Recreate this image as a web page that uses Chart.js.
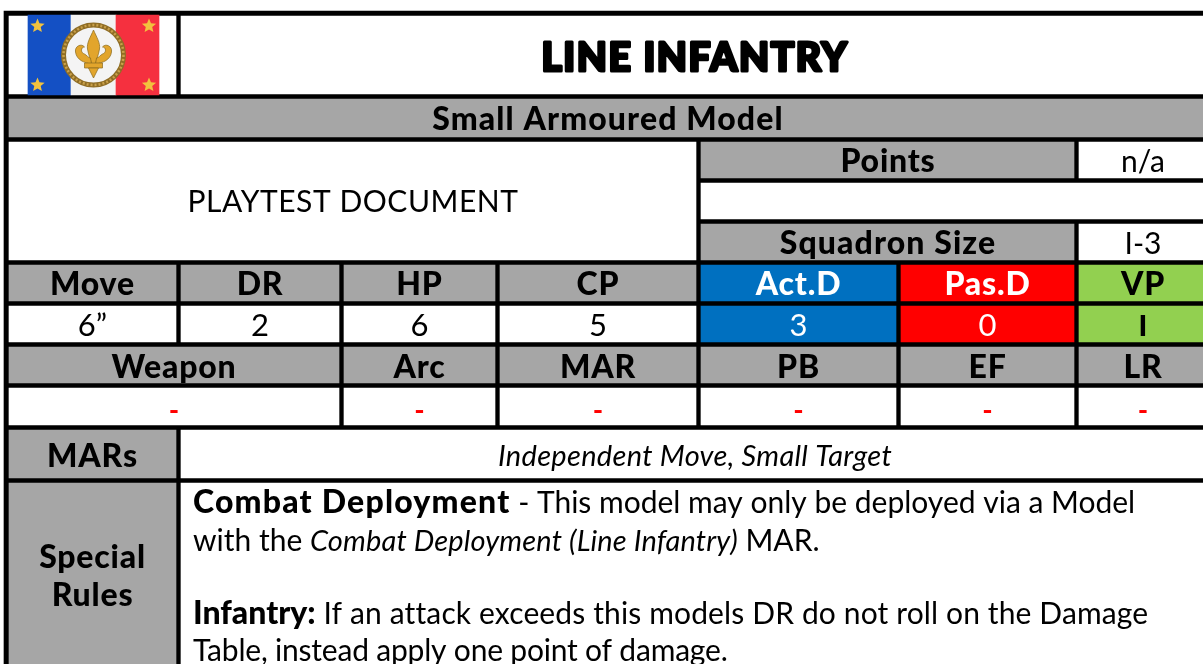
<!DOCTYPE html>
<html>
<head>
<meta charset="utf-8">
<title>Line Infantry</title>
<script src="https://cdn.jsdelivr.net/npm/chart.js@4"></script>
<style>
  html, body { margin: 0; padding: 0; background: #fff; overflow: hidden; }
  canvas { display: block; }
</style>
</head>
<body>
<canvas id="card" width="1203" height="664"></canvas>
<script>
// Card contents
const titleText = 'LINE INFANTRY';
const modelType = 'Small Armoured Model';
const noteText = 'PLAYTEST DOCUMENT';
const pointsLabel = 'Points';
const pointsValue = 'n/a';
const squadronLabel = 'Squadron Size';
const squadronValue = 'I-3';
const statHeaders = ['Move', 'DR', 'HP', 'CP', 'Act.D', 'Pas.D', 'VP'];
const statValues = ['6”', '2', '6', '5', '3', '0', 'I'];
const weaponHeaders = ['Weapon', 'Arc', 'MAR', 'PB', 'EF', 'LR'];
const weaponValues = ['-', '-', '-', '-', '-', '-'];
const marsLabel = 'MARs';
const marsText = 'Independent Move, Small Target';
const rulesLabel = ['Special', 'Rules'];
const rulesLines = [
  [['b', 'Combat Deployment'], ['n', ' - This model may only be deployed via a Model']],
  [['n', 'with the '], ['i', 'Combat Deployment (Line Infantry)'], ['n', ' MAR.']],
  [['b', 'Infantry:'], ['n', ' If an attack exceeds this models DR do not roll on the Damage']],
  [['n', 'Table, instead apply one point of damage.']]
];

// Grid of the card, in axis units (last column runs off the page)
const GREY = '#a6a6a6', WHITE = '#ffffff', BLUE = '#0070c0', RED = '#ff0000', GREEN = '#92d050';
const rows = {
  title: [16, 94], type: [99, 137], note: [142, 260], points: [142, 178], blank: [183, 219], squad: [224, 260],
  stat: [265, 301], val: [306, 342], weap: [347, 383], wval: [388, 425], mars: [430, 478], rules: [483, 664]
};
const cols = [[9, 176], [181, 339], [344, 495], [500, 696], [701, 896], [901, 1074], [1079, 1207]];
const weapCols = [[9, 339], cols[2], cols[3], cols[4], cols[5], cols[6]];
const statFill = [GREY, GREY, GREY, GREY, BLUE, RED, GREEN];
const valFill = [WHITE, WHITE, WHITE, WHITE, BLUE, RED, GREEN];

function rowDataset(rowKey, cells) {
  const r = rows[rowKey];
  return {
    barThickness: r[1] - r[0],
    data: cells.map(c => ({ x: [c[0], c[1]], y: (r[0] + r[1]) / 2 })),
    backgroundColor: cells.map(c => c[2])
  };
}
const withFill = (list, fills) => list.map((c, i) => [c[0], c[1], Array.isArray(fills) ? fills[i] : fills]);

const datasets = [
  // flag stripes go over the title cell
  { barThickness: 80, data: [{ x: [28, 71], y: 55 }, { x: [71, 116], y: 55 }, { x: [116, 159], y: 55 }],
    backgroundColor: ['#1450c4', '#f2f2f2', '#f5303f'] },
  rowDataset('title', [[9, 176, WHITE], [181, 1207, WHITE]]),
  rowDataset('type', [[9, 1207, GREY]]),
  rowDataset('note', [[9, 696, WHITE]]),
  rowDataset('points', [[701, 1074, GREY], [1079, 1207, WHITE]]),
  rowDataset('blank', [[701, 1207, WHITE]]),
  rowDataset('squad', [[701, 1074, GREY], [1079, 1207, WHITE]]),
  rowDataset('stat', withFill(cols, statFill)),
  rowDataset('val', withFill(cols, valFill)),
  rowDataset('weap', withFill(weapCols, GREY)),
  rowDataset('wval', withFill(weapCols, WHITE)),
  rowDataset('mars', [[9, 176, GREY], [181, 1207, WHITE]]),
  rowDataset('rules', [[9, 176, GREY], [181, 1207, WHITE]]),
  // black backing shows through as the border lines
  { barThickness: 653, data: [{ x: [4, 1207], y: 337.5 }], backgroundColor: ['#000000'] }
];

const FONT = 'Lato, "Liberation Sans", sans-serif';

function star(ctx, x, y, r) {
  ctx.beginPath();
  for (let i = 0; i < 10; i++) {
    const a = -Math.PI / 2 + i * Math.PI / 5, d = i % 2 ? r * 0.45 : r;
    ctx.lineTo(x + d * Math.cos(a), y + d * Math.sin(a));
  }
  ctx.closePath();
  ctx.fillStyle = '#f2c23e';
  ctx.fill();
}

function fleur(ctx, x, y) {
  ctx.save();
  ctx.translate(x, y);
  ctx.fillStyle = '#e2a52c';
  ctx.strokeStyle = '#8a6a1c';
  ctx.lineWidth = 0.7;
  // middle petal
  ctx.beginPath();
  ctx.moveTo(0, -25);
  ctx.bezierCurveTo(-3, -18, -7, -12, -6, -6);
  ctx.bezierCurveTo(-5, 0, -3, 4, -2, 9);
  ctx.lineTo(2, 9);
  ctx.bezierCurveTo(3, 4, 5, 0, 6, -6);
  ctx.bezierCurveTo(7, -12, 3, -18, 0, -25);
  ctx.closePath();
  ctx.fill(); ctx.stroke();
  // side petals
  [-1, 1].forEach(s => {
    ctx.beginPath();
    ctx.moveTo(s * 2, 9);
    ctx.bezierCurveTo(s * 9, 8, s * 17, 5, s * 18, -3);
    ctx.bezierCurveTo(s * 19, -9, s * 12, -12, s * 9, -8);
    ctx.bezierCurveTo(s * 13, -8, s * 13, -2, s * 9, -1);
    ctx.bezierCurveTo(s * 7, 0, s * 5, 3, s * 3, 3);
    ctx.closePath();
    ctx.fill(); ctx.stroke();
  });
  // band and foot
  ctx.beginPath();
  ctx.rect(-9, 8, 18, 5);
  ctx.fill(); ctx.stroke();
  ctx.beginPath();
  ctx.moveTo(-5, 13); ctx.lineTo(5, 13); ctx.lineTo(0, 23); ctx.closePath();
  ctx.fill(); ctx.stroke();
  ctx.restore();
}

const cardText = {
  id: 'cardText',
  afterDatasetsDraw(chart) {
    const ctx = chart.ctx, sx = chart.scales.x, sy = chart.scales.y;
    const X = v => sx.getPixelForValue(v), Y = v => sy.getPixelForValue(v);

    // flag emblem
    const cx = X(93.5), cy = Y(55);
    ctx.save();
    ctx.beginPath(); ctx.arc(cx, cy, 30, 0, Math.PI * 2);
    ctx.fillStyle = '#f4f4f4'; ctx.fill();
    ctx.lineWidth = 5; ctx.strokeStyle = '#8f6d25'; ctx.stroke();
    ctx.setLineDash([2, 2]); ctx.lineWidth = 2.5; ctx.strokeStyle = '#c9a04a'; ctx.stroke();
    ctx.setLineDash([]);
    [[37.5, 26], [149, 26], [37.5, 85], [149, 85]].forEach(p => star(ctx, X(p[0]), Y(p[1]), 7.5));
    fleur(ctx, cx, cy);
    ctx.restore();

    const put = (text, x, y, font, color, spacing) => {
      ctx.font = font + ' ' + FONT;
      ctx.letterSpacing = (spacing || 0) + 'px';
      ctx.fillStyle = color || '#000';
      ctx.textAlign = 'center';
      ctx.textBaseline = 'alphabetic';
      ctx.fillText(text, X(x), Y(y));
    };
    const mid = c => (c[0] + c[1]) / 2;
    const HEAD = '900 32px', HS = 0.8, BODY = '400 30px';

    ctx.save();
    ctx.lineJoin = 'round';
    ctx.strokeStyle = '#000';
    ctx.lineWidth = 3;
    ctx.font = '900 39px ' + FONT;
    ctx.letterSpacing = '1.6px';
    ctx.textAlign = 'center';
    ctx.textBaseline = 'alphabetic';
    ctx.strokeText(titleText, X(695), Y(71));
    ctx.fillStyle = '#000';
    ctx.fillText(titleText, X(695), Y(71));
    ctx.restore();

    put(modelType, 608, 130, HEAD, '#000', 1.1);
    put(noteText, 353, 212, BODY, '#000', 0.55);
    put(pointsLabel, 888, 172, HEAD, '#000', HS);
    put(pointsValue, 1143, 172, BODY);
    put(squadronLabel, 888, 254, HEAD, '#000', 1.1);
    put(squadronValue, 1143, 254, BODY);

    statHeaders.forEach((t, i) => put(t, mid(cols[i]), 295, HEAD, i === 4 || i === 5 ? '#fff' : '#000', HS));
    statValues.forEach((t, i) => put(t, mid(cols[i]), 336, i === 6 ? '900 29px' : '400 31px', i === 4 || i === 5 ? '#fff' : '#000'));
    weaponHeaders.forEach((t, i) => put(t, mid(weapCols[i]), 378, HEAD, '#000', HS));
    weaponValues.forEach((t, i) => put(t, mid(weapCols[i]), 420, '700 28px', RED));

    put(marsLabel, mid(cols[0]), 467, HEAD, '#000', HS);
    put(marsText, 695, 466, 'italic 400 29px', '#000', 0.3);
    put(rulesLabel[0], mid(cols[0]), 568, HEAD, '#000', HS);
    put(rulesLabel[1], mid(cols[0]), 606, HEAD, '#000', HS);

    // rule text, line by line with mixed weights and hand-fitted spacing
    const lineY = [513, 551, 624, 661];
    const runFont = { b: '900 32px ', n: '400 30px ', i: 'italic 400 29px ' };
    const runSpacing = [[1.2, 0], [0, 0.15, 0], [0, 0.13], [-0.2]];
    ctx.textAlign = 'left';
    ctx.textBaseline = 'alphabetic';
    ctx.fillStyle = '#000';
    rulesLines.forEach((line, i) => {
      let x = X(193);
      line.forEach((run, j) => {
        ctx.font = runFont[run[0]] + FONT;
        ctx.letterSpacing = runSpacing[i][j] + 'px';
        ctx.fillText(run[1], x, Y(lineY[i]));
        x += ctx.measureText(run[1]).width;
      });
    });
    ctx.letterSpacing = '0px';
  }
};

new Chart(document.getElementById('card').getContext('2d'), {
  type: 'bar',
  data: { datasets },
  options: {
    indexAxis: 'y',
    responsive: false,
    animation: false,
    layout: { padding: 0 },
    datasets: { bar: { grouped: false, borderWidth: 0, borderSkipped: false } },
    plugins: { legend: { display: false }, tooltip: { enabled: false }, title: { display: false } },
    scales: {
      x: { type: 'linear', min: 0, max: 1203, display: false, offset: false },
      y: { type: 'linear', min: 0, max: 664, reverse: true, display: false, offset: false }
    }
  },
  plugins: [cardText]
});
</script>
</body>
</html>
